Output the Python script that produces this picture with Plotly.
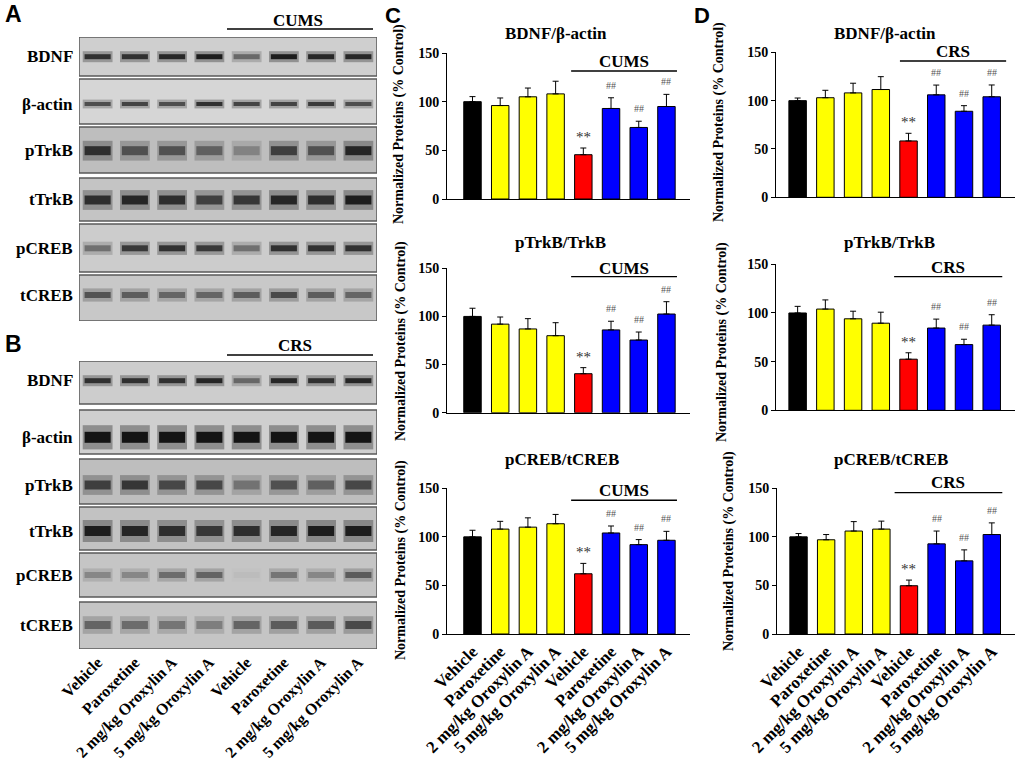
import plotly.graph_objects as go

W, H = 1024, 766
def px(x): return x / W
def py(y): return 1 - y / H

# ---------------- data ----------------
groups = ["Vehicle", "Paroxetine", "2 mg/kg Oroxylin A", "5 mg/kg Oroxylin A",
          "Vehicle", "Paroxetine", "2 mg/kg Oroxylin A", "5 mg/kg Oroxylin A"]
lanes = [0, 1, 2, 3, 4, 5, 6, 7]
proteins = ["BDNF", "β-actin", "pTrkB", "tTrkB", "pCREB", "tCREB"]

# western blot band intensities (0 = no band, 1 = darkest)
blotA_BDNF   = [0.85, 0.85, 0.90, 0.95, 0.55, 0.95, 0.90, 0.90]
blotA_actin  = [0.70, 0.75, 0.70, 0.85, 0.75, 0.75, 0.80, 0.70]
blotA_pTrkB  = [0.85, 0.65, 0.65, 0.55, 0.35, 0.75, 0.65, 0.90]
blotA_tTrkB  = [0.85, 0.90, 0.85, 0.75, 0.80, 0.90, 0.85, 0.95]
blotA_pCREB  = [0.50, 0.80, 0.85, 0.80, 0.50, 0.85, 0.85, 0.85]
blotA_tCREB  = [0.65, 0.60, 0.55, 0.55, 0.60, 0.70, 0.60, 0.55]

blotB_BDNF   = [0.85, 0.85, 0.85, 0.90, 0.55, 0.90, 0.85, 0.90]
blotB_actin  = [1.00, 1.00, 1.00, 1.00, 1.00, 1.00, 1.00, 1.00]
blotB_pTrkB  = [0.75, 0.80, 0.70, 0.70, 0.45, 0.65, 0.55, 0.70]
blotB_tTrkB  = [0.95, 0.90, 0.85, 0.80, 0.85, 0.90, 0.95, 0.95]
blotB_pCREB  = [0.35, 0.35, 0.50, 0.55, 0.05, 0.45, 0.35, 0.60]
blotB_tCREB  = [0.55, 0.50, 0.45, 0.40, 0.55, 0.60, 0.60, 0.70]

# bar chart values (% control) and error (SEM)
C_BDNF_mean  = [100, 96, 105, 108, 45.5, 93, 73.5, 95]
C_BDNF_sem   = [5.2, 7.8, 9, 13, 6.9, 11, 6.4, 12.5]
C_pTrkB_mean = [100, 92, 87, 80, 40.5, 86, 75.5, 102.5]
C_pTrkB_sem  = [8.5, 7.4, 10.7, 13.5, 6.3, 9, 8.3, 12.8]
C_pCREB_mean = [100, 108, 110, 113.5, 62, 104, 92, 96.5]
C_pCREB_sem  = [6.8, 8, 9.6, 9.6, 10.7, 7.2, 5.2, 9.2]
D_BDNF_mean  = [100, 103, 108, 111.5, 58.3, 106, 89, 104]
D_BDNF_sem   = [2.7, 7.7, 10, 13.3, 7.9, 10.1, 5.8, 12.2]
D_pTrkB_mean = [100, 104, 94, 89.5, 52.5, 84.5, 67.5, 87.5]
D_pTrkB_sem  = [6.8, 9.4, 7.8, 11.3, 6.6, 9.2, 5.5, 10.7]
D_pCREB_mean = [100, 97, 106, 108, 49.7, 92.8, 75.3, 102.4]
D_pCREB_sem  = [3.4, 5.4, 9.7, 8.2, 5.8, 13.2, 11.3, 12]

sig_marks = ["", "", "", "", "**", "##", "##", "##"]
y_ticks = [0, 50, 100, 150]

# ---------------- styles ----------------
SERIF = "Liberation Serif"
SANS = "Liberation Sans"
bar_colors = ["#000000", "#FFFF00", "#FFFF00", "#FFFF00", "#FF0000", "#0000FF", "#0000FF", "#0000FF"]

fig = go.Figure()
lay = {}
shapes = []
annots = []

def ax(i):
    return "" if i == 1 else str(i)

def gray(v):
    v = int(round(max(0, min(255, v))))
    return f"rgb({v},{v},{v})"

# ---------------- blot panels ----------------
blot_panels = [
    dict(i=1, top=37, bottom=321,
         vals=[blotA_BDNF, blotA_actin, blotA_pTrkB, blotA_tTrkB, blotA_pCREB, blotA_tCREB],
         strips=[(37, 76), (79, 124), (127, 173), (178, 221), (224, 272), (275, 321)],
         band_y=[56.7, 104, 150.7, 200, 248.3, 295],
         band_h=[5, 4, 9, 9, 6, 6],
         bgs=[207, 214, 190, 196, 204, 200],
         group="CUMS", gx=298, gy=21, line_y=29, letter="A", ly=14, ticklabels=False),
    dict(i=2, top=361, bottom=649,
         vals=[blotB_BDNF, blotB_actin, blotB_pTrkB, blotB_tTrkB, blotB_pCREB, blotB_tCREB],
         strips=[(361, 404), (410, 454), (459, 504), (507, 550), (553, 597), (602, 649)],
         band_y=[380.7, 437.3, 485, 531, 575, 625],
         band_h=[5, 11, 9, 10, 6, 8],
         bgs=[205, 207, 190, 194, 197, 197],
         group="CRS", gx=295, gy=345, line_y=355, letter="B", ly=344, ticklabels=True),
]

for p in blot_panels:
    i = p["i"]
    lay["xaxis" + ax(i)] = dict(domain=[px(79), px(377)], range=[-0.5, 7.5], anchor="y" + ax(i),
                                showgrid=False, zeroline=False, showline=False, automargin=False,
                                showticklabels=p["ticklabels"], ticks="",
                                tickvals=lanes, ticktext=groups, tickangle=-45,
                                tickfont=dict(family=SERIF, size=16, color="black", weight="bold"),
                                fixedrange=True)
    lay["yaxis" + ax(i)] = dict(domain=[py(p["bottom"]), py(p["top"])], range=[p["bottom"], p["top"]],
                                anchor="x" + ax(i), visible=False, automargin=False, fixedrange=True)
    hx, hb, hh, hc = [], [], [], []
    cx, cb, ch, cc = [], [], [], []
    for r, vals in enumerate(p["vals"]):
        t, b = p["strips"][r]
        bg = p["bgs"][r]
        shapes.append(dict(type="rect", xref="x" + ax(i), yref="y" + ax(i), x0=-0.5, x1=7.5, y0=t, y1=b,
                           fillcolor=gray(bg), line=dict(color="#5a5a5a", width=1.5), layer="below"))
        annots.append(dict(text=proteins[r], xref="paper", yref="paper", x=px(75), y=py(p["band_y"][r]),
                           xanchor="right", yanchor="middle", showarrow=False,
                           font=dict(family=SERIF, size=17, color="black", weight="bold")))
        for j, v in enumerate(vals):
            h = p["band_h"][r]
            yc = p["band_y"][r]
            hx.append(lanes[j]); hb.append(yc - h * 1.1); hh.append(h * 2.2)
            hc.append(gray(bg - (bg - 20) * v * 0.35))
            cx.append(lanes[j]); cb.append(yc - h / 2); ch.append(h)
            cc.append(gray(bg - (bg - 20) * v))
    fig.add_trace(go.Bar(x=hx, y=hh, base=hb, width=0.8, marker=dict(color=hc, line=dict(width=0)),
                         xaxis="x" + ax(i), yaxis="y" + ax(i), showlegend=False, hoverinfo="skip"))
    fig.add_trace(go.Bar(x=cx, y=ch, base=cb, width=0.7, marker=dict(color=cc, line=dict(width=0)),
                         xaxis="x" + ax(i), yaxis="y" + ax(i), showlegend=False, hoverinfo="skip"))
    annots.append(dict(text=p["group"], xref="paper", yref="paper", x=px(p["gx"]), y=py(p["gy"]),
                       xanchor="center", yanchor="middle", showarrow=False,
                       font=dict(family=SERIF, size=17, color="black", weight="bold")))
    shapes.append(dict(type="line", xref="paper", yref="paper", x0=px(227), x1=px(373),
                       y0=py(p["line_y"]), y1=py(p["line_y"]), line=dict(color="black", width=1.3)))
    annots.append(dict(text=p["letter"], xref="paper", yref="paper", x=px(3), y=py(p["ly"]),
                       xanchor="left", yanchor="middle", showarrow=False,
                       font=dict(family=SANS, size=23, color="black", weight="bold")))

# ---------------- bar charts ----------------
charts = [
    dict(i=3, mean=C_BDNF_mean, sem=C_BDNF_sem, title="BDNF/β-actin", tx=556, ty=33,
         x0=447, x1=690, top=53, bottom=199, xr=[-0.92, 7.85], group="CUMS", gty=141, gly=131.5,
         gl=[3.56, 7.38], ylab_x=399, ylab_y=124, letter="C", lx=383, ticklabels=False),
    dict(i=4, mean=C_pTrkB_mean, sem=C_pTrkB_sem, title="pTrkB/TrkB", tx=560, ty=243,
         x0=447, x1=690, top=268.3, bottom=412.7, xr=[-0.92, 7.85], group="CUMS", gty=150, gly=141.3,
         gl=[3.56, 7.38], ylab_x=401, ylab_y=341, letter=None, ticklabels=False),
    dict(i=5, mean=C_pCREB_mean, sem=C_pCREB_sem, title="pCREB/tCREB", tx=562, ty=459,
         x0=447, x1=690, top=488.3, bottom=634, xr=[-0.92, 7.85], group="CUMS", gty=148, gly=137.7,
         gl=[3.56, 7.38], ylab_x=401, ylab_y=560, letter=None, ticklabels=True),
    dict(i=6, mean=D_BDNF_mean, sem=D_BDNF_sem, title="BDNF/β-actin", tx=885, ty=33,
         x0=776, x1=1015, top=52.3, bottom=197.3, xr=[-0.78, 7.84], group="CRS", gty=150.7, gly=141,
         gl=[3.69, 7.52], ylab_x=719, ylab_y=122, letter="D", lx=692, ticklabels=False),
    dict(i=7, mean=D_pTrkB_mean, sem=D_pTrkB_sem, title="pTrkB/TrkB", tx=889, ty=243,
         x0=776, x1=1015, top=264.3, bottom=410.3, xr=[-0.78, 7.84], group="CRS", gty=146.6, gly=137.3,
         gl=[3.48, 7.38], ylab_x=722, ylab_y=342, letter=None, ticklabels=False),
    dict(i=8, mean=D_pCREB_mean, sem=D_pCREB_sem, title="pCREB/tCREB", tx=891, ty=459,
         x0=777, x1=1015, top=488.3, bottom=634, xr=[-0.78, 7.84], group="CRS", gty=155.8, gly=145.5,
         gl=[3.48, 7.38], ylab_x=729, ylab_y=551, letter=None, ticklabels=True),
]

for c in charts:
    i = c["i"]
    xa, ya = "x" + ax(i), "y" + ax(i)
    lay["xaxis" + ax(i)] = dict(domain=[px(c["x0"]), px(c["x1"])], range=c["xr"], anchor=ya,
                                showgrid=False, zeroline=False, showline=True, linecolor="black", linewidth=1,
                                ticks="", showticklabels=c["ticklabels"], tickvals=lanes, ticktext=groups,
                                tickangle=-45, automargin=False,
                                tickfont=dict(family=SERIF, size=17, color="black", weight="bold"),
                                fixedrange=True)
    lay["yaxis" + ax(i)] = dict(domain=[py(c["bottom"]), py(c["top"])], range=[0, 150], anchor=xa,
                                showgrid=False, zeroline=False, showline=True, linecolor="black", linewidth=1,
                                ticks="outside", ticklen=4, tickwidth=1, tickcolor="black",
                                tickvals=y_ticks, automargin=False,
                                tickfont=dict(family=SERIF, size=14, color="black", weight="bold"),
                                fixedrange=True)
    fig.add_trace(go.Bar(x=lanes, y=c["mean"], width=0.63, xaxis=xa, yaxis=ya, showlegend=False,
                         marker=dict(color=bar_colors, line=dict(color="black", width=1)),
                         error_y=dict(type="data", symmetric=False, array=c["sem"],
                                      arrayminus=[0] * 8, color="black", thickness=1, width=3)))
    for j in range(8):
        m = sig_marks[j]
        if not m:
            continue
        top_val = c["mean"][j] + c["sem"][j]
        if m == "**":
            annots.append(dict(text=m, xref=xa, yref=ya + " domain", x=lanes[j], y=top_val / 150,
                               yanchor="bottom", yshift=1, showarrow=False,
                               font=dict(family=SERIF, size=15, color="#333333")))
        else:
            annots.append(dict(text=m, xref=xa, yref=ya + " domain", x=lanes[j], y=top_val / 150,
                               yanchor="bottom", yshift=5, showarrow=False,
                               font=dict(family=SERIF, size=10, color="#555555")))
    annots.append(dict(text=c["title"], xref="paper", yref="paper", x=px(c["tx"]), y=py(c["ty"]),
                       xanchor="center", yanchor="middle", showarrow=False,
                       font=dict(family=SERIF, size=17, color="black", weight="bold")))
    annots.append(dict(text=c["group"], xref=xa, yref=ya + " domain", x=(c["gl"][0] + c["gl"][1]) / 2,
                       y=c["gty"] / 150, xanchor="center", yanchor="middle", showarrow=False,
                       font=dict(family=SERIF, size=17, color="black", weight="bold")))
    shapes.append(dict(type="line", xref=xa, yref=ya + " domain", x0=c["gl"][0], x1=c["gl"][1],
                       y0=c["gly"] / 150, y1=c["gly"] / 150, line=dict(color="black", width=1.3)))
    annots.append(dict(text="Normalized Proteins (% Control)", xref="paper", yref="paper",
                       x=px(c["ylab_x"]), y=py(c["ylab_y"]), textangle=-90, xanchor="center",
                       yanchor="middle", showarrow=False,
                       font=dict(family=SERIF, size=14, color="black", weight="bold")))
    if c["letter"]:
        annots.append(dict(text=c["letter"], xref="paper", yref="paper", x=px(c["lx"]), y=py(15),
                           xanchor="left", yanchor="middle", showarrow=False,
                           font=dict(family=SANS, size=22, color="black", weight="bold")))

fig.update_layout(width=W, height=H, margin=dict(l=0, r=0, t=0, b=0, pad=0, autoexpand=False),
                  paper_bgcolor="white", plot_bgcolor="white", barmode="overlay",
                  shapes=shapes, annotations=annots, showlegend=False, **lay)
fig.write_html("out.html", config={"displayModeBar": False},
               post_script="document.body.style.margin='0';document.body.style.overflow='hidden';")
